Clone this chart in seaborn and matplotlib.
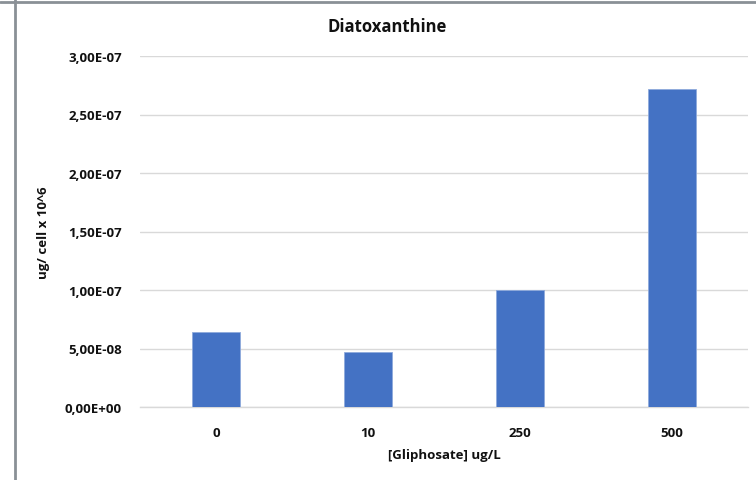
import matplotlib
matplotlib.use("Agg")
import matplotlib.pyplot as plt
from matplotlib.lines import Line2D
import seaborn as sns
import pandas as pd

# Diatoxanthin content per cell at each glyphosate dose
doses = ["0", "10", "250", "500"]
diatox = [6.38e-8, 4.67e-8, 1.00e-7, 2.72e-7]

y_ticks = [0.0, 5e-8, 1e-7, 1.5e-7, 2e-7, 2.5e-7, 3e-7]
y_tick_labels = ["0,00E+00", "5,00E-08", "1,00E-07", "1,50E-07",
                 "2,00E-07", "2,50E-07", "3,00E-07"]

sns.set_theme(style="white")
plt.rcParams["font.family"] = ["Open Sans", "DejaVu Sans"]

df = pd.DataFrame({"dose": doses, "value": diatox})

W, H = 756, 481
fig = plt.figure(figsize=(W / 100, H / 100), dpi=100)
ax = fig.add_axes([140 / W, 1 - 408 / H, 608 / W, 351 / H])

sns.barplot(data=df, x="dose", y="value", order=doses, color="#4472C4",
            width=0.315, saturation=1, edgecolor="#8faadc", linewidth=0.6,
            ax=ax, zorder=3)

ax.set_ylim(0, 3e-7)
ax.set_xlim(-0.5, 3.5)
ax.set_yticks(y_ticks)
ax.set_yticklabels(y_tick_labels)
ax.yaxis.grid(True, color="#d9d9d9", linewidth=1.0, zorder=0)
ax.xaxis.grid(False)
for side in ["top", "right", "left"]:
    ax.spines[side].set_visible(False)
ax.spines["bottom"].set_color("#d9d9d9")
ax.spines["bottom"].set_linewidth(1.0)
ax.tick_params(axis="both", length=0, labelsize=9.5, colors="#111111")
ax.tick_params(axis="y", pad=13)
ax.tick_params(axis="x", pad=14)
for lbl in ax.get_xticklabels() + ax.get_yticklabels():
    lbl.set_fontweight("bold")

ax.set_xlabel("[Gliphosate] ug/L", fontsize=9.5, fontweight="bold",
              color="#111111", va="center")
ax.xaxis.set_label_coords(0.5, -47 / 351)
ax.set_ylabel("ug/ cell x 10^6", fontsize=9.5, fontweight="bold",
              color="#111111", va="center")
ax.yaxis.set_label_coords(-(140 - 43) / 608, 0.5)

fig.text(387 / W, 1 - 27 / H, "Diatoxanthine", fontsize=12,
         fontweight="bold", color="#111111", ha="center", va="center")

# Frame edges of the surrounding sheet
fig.add_artist(Line2D([0, 1], [1 - 2.5 / H, 1 - 2.5 / H],
                      transform=fig.transFigure, color="#8a9096", linewidth=2))
fig.add_artist(Line2D([15 / W, 15 / W], [0, 1],
                      transform=fig.transFigure, color="#8a9096", linewidth=2))

fig.savefig("out.png", dpi=100)
